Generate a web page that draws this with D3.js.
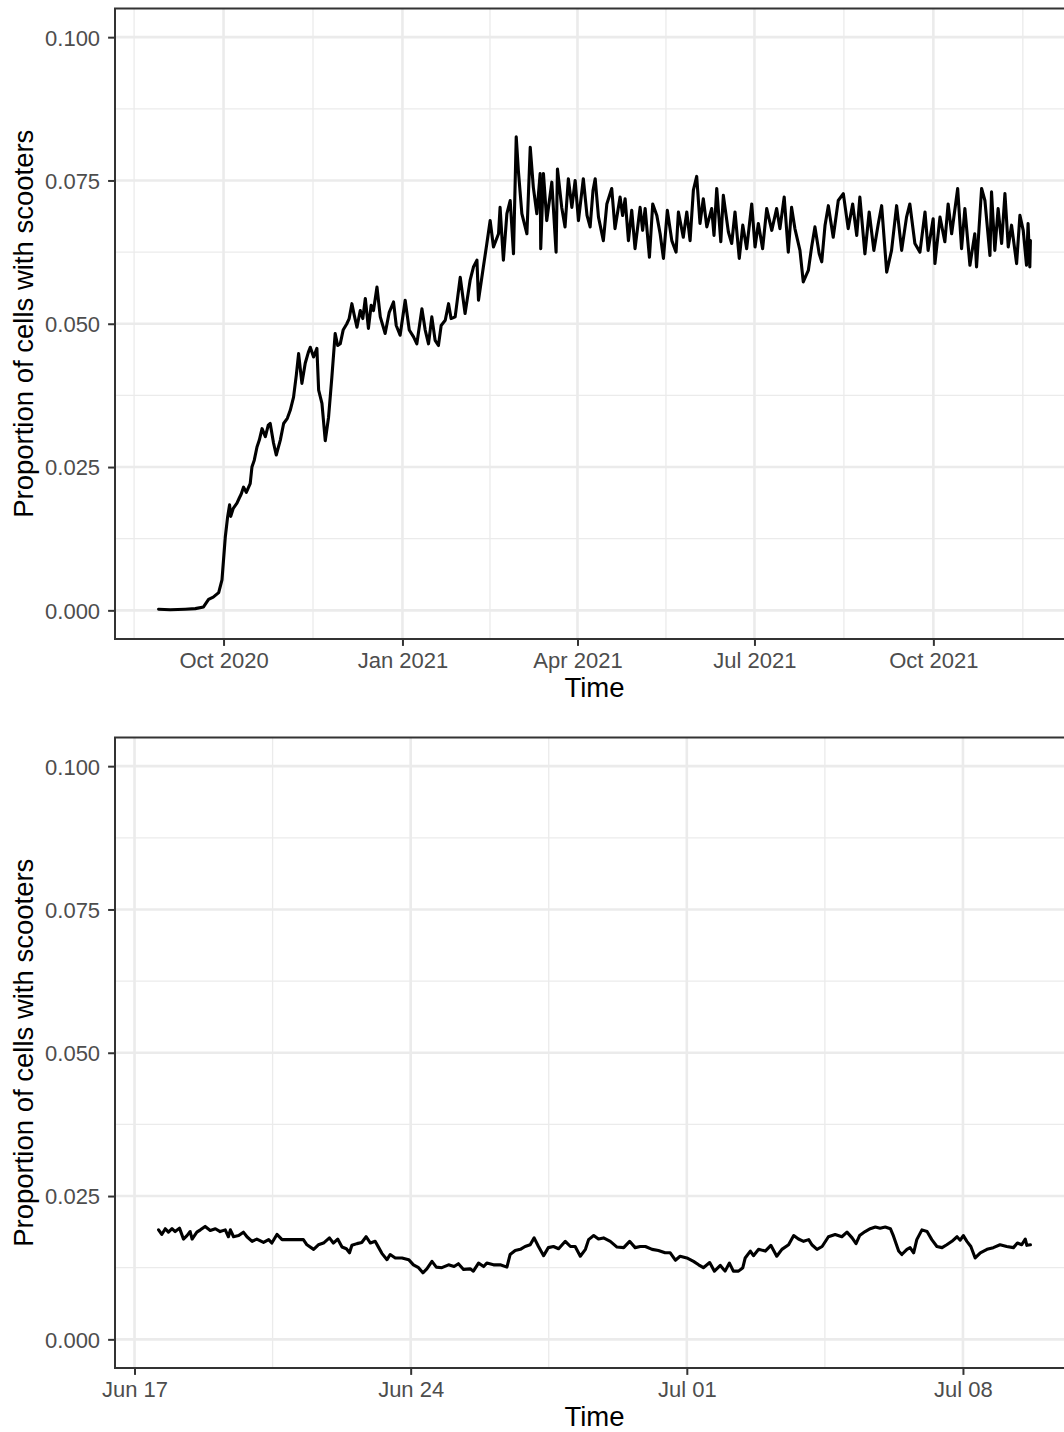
<!DOCTYPE html>
<html>
<head>
<meta charset="utf-8">
<script src="https://cdn.jsdelivr.net/npm/d3@7"></script>
<style>
body{margin:0;background:#fff}
text{font-family:"Liberation Sans",Arial,Helvetica,sans-serif}
</style>
</head>
<body>
<script>
// whole period: days after overviewStart, proportion of cells
var overviewStart="2020-08-28"
var overviewDays=[0.6,6.6,14.3,19.5,23.7,26.3,28.7,31.5,33.2,34.9,
  36.1,37.1,37.7,39.0,40.9,42.1,43.1,44.3,45.7,47.7,
  48.6,49.8,51.2,52.4,53.8,55.5,57.0,58.0,59.7,61.1,
  63.2,64.9,66.8,68.3,70.0,71.4,72.6,74.3,76.0,77.6,
  78.6,80.3,82.0,82.9,84.6,86.3,88.0,89.7,91.4,92.7,
  94.0,95.5,97.4,98.6,100.0,101.2,102.6,104.3,105.6,106.9,
  108.5,109.9,111.1,112.9,114.6,117.1,119.2,121.4,122.8,124.8,
  127.4,129.5,131.7,133.4,136.0,137.7,139.4,141.1,142.8,144.5,
  145.9,148.0,149.7,151.0,153.1,155.7,158.2,160.8,162.5,164.3,
  165.1,167.6,169.4,171.1,172.8,175.4,176.2,177.9,179.7,181.4,
  183.1,184.5,185.6,187.4,190.0,191.7,193.3,195.1,196.8,197.1,
  198.5,200.2,202.8,205.0,205.7,207.9,209.6,211.3,213.1,214.8,
  216.5,219.0,220.9,222.5,224.0,225.1,226.8,229.3,231.1,233.6,
  235.3,237.9,239.2,240.5,242.2,243.9,245.6,248.2,249.5,250.8,
  253.0,254.7,256.8,258.5,260.2,262.2,264.5,266.7,267.9,270.4,
  272.2,273.9,275.6,277.3,279.0,280.7,282.5,285.0,286.2,287.6,
  289.7,291.0,293.6,295.3,297.0,299.2,301.0,303.0,305.6,307.3,
  309.0,311.2,313.3,315.9,318.4,320.1,322.3,324.4,326.1,327.8,
  330.4,332.1,333.5,334.7,336.4,338.1,340.3,341.6,343.3,345.0,
  347.5,350.1,352.7,355.2,357.5,359.6,361.2,363.8,366.0,368.4,
  370.7,372.4,375.0,377.5,380.1,382.7,385.2,386.9,389.5,392.1,
  394.7,396.3,398.9,399.8,402.4,404.9,406.6,408.4,411.5,413.5,
  415.2,417.8,420.3,421.2,423.8,425.5,428.1,428.9,430.6,432.3,
  434.1,435.8,437.5,439.2,441.8,443.5,445.2,446.9,447.7,448.6,
  448.9]
var overviewValues=[0.0002,0.0001,0.0002,0.0003,0.0006,0.0019,0.0023,0.0031,0.0053,0.0128,
  0.0163,0.0184,0.0164,0.0178,0.0187,0.0196,0.0203,0.0215,0.0206,0.0221,
  0.0250,0.0262,0.0285,0.0297,0.0317,0.0303,0.0323,0.0326,0.0292,0.0271,
  0.0297,0.0326,0.0335,0.0349,0.0372,0.0410,0.0448,0.0396,0.0431,0.0450,
  0.0459,0.0442,0.0457,0.0384,0.0361,0.0296,0.0337,0.0407,0.0483,0.0462,
  0.0465,0.0489,0.0500,0.0509,0.0535,0.0515,0.0494,0.0523,0.0509,0.0544,
  0.0492,0.0532,0.0523,0.0564,0.0512,0.0483,0.0520,0.0538,0.0497,0.0480,
  0.0541,0.0489,0.0477,0.0465,0.0526,0.0489,0.0465,0.0512,0.0471,0.0462,
  0.0497,0.0506,0.0535,0.0509,0.0512,0.0581,0.0518,0.0576,0.0599,0.0611,
  0.0541,0.0599,0.0640,0.0680,0.0634,0.0657,0.0703,0.0611,0.0692,0.0715,
  0.0622,0.0826,0.0767,0.0692,0.0657,0.0808,0.0738,0.0692,0.0762,0.0631,
  0.0762,0.0680,0.0747,0.0625,0.0770,0.0703,0.0669,0.0753,0.0703,0.0750,
  0.0680,0.0753,0.0689,0.0669,0.0733,0.0753,0.0686,0.0645,0.0709,0.0736,
  0.0666,0.0721,0.0689,0.0718,0.0645,0.0698,0.0631,0.0703,0.0663,0.0701,
  0.0616,0.0709,0.0689,0.0657,0.0614,0.0698,0.0645,0.0625,0.0695,0.0651,
  0.0695,0.0645,0.0733,0.0757,0.0675,0.0718,0.0669,0.0701,0.0654,0.0736,
  0.0643,0.0724,0.0660,0.0640,0.0695,0.0614,0.0672,0.0631,0.0709,0.0634,
  0.0675,0.0631,0.0701,0.0663,0.0701,0.0666,0.0721,0.0625,0.0703,0.0666,
  0.0628,0.0573,0.0584,0.0593,0.0634,0.0669,0.0622,0.0608,0.0672,0.0706,
  0.0651,0.0715,0.0727,0.0666,0.0709,0.0654,0.0721,0.0622,0.0695,0.0628,
  0.0675,0.0706,0.0590,0.0628,0.0706,0.0628,0.0686,0.0709,0.0640,0.0625,
  0.0695,0.0628,0.0683,0.0605,0.0686,0.0643,0.0709,0.0657,0.0736,0.0631,
  0.0701,0.0602,0.0657,0.0599,0.0736,0.0715,0.0619,0.0730,0.0628,0.0701,
  0.0640,0.0727,0.0634,0.0672,0.0605,0.0689,0.0663,0.0602,0.0675,0.0599,
  0.0645]
var overviewBreaks=["2020-07-01","2020-10-01","2021-01-01","2021-04-01","2021-07-01","2021-10-01","2022-01-01"]

// three weeks close up: days after detailStart
var detailStart="2022-06-17"
var detailDays=[0.61,0.69,0.78,0.86,0.95,1.03,1.14,1.24,1.33,1.41,
  1.46,1.58,1.67,1.79,1.92,2.05,2.17,2.30,2.38,2.43,
  2.51,2.64,2.76,2.85,2.98,3.10,3.27,3.40,3.48,3.61,
  3.74,3.86,4.28,4.37,4.54,4.66,4.79,4.94,5.04,5.15,
  5.26,5.37,5.45,5.51,5.64,5.76,5.87,5.98,6.10,6.19,
  6.27,6.40,6.48,6.61,6.78,6.95,7.07,7.20,7.31,7.41,
  7.54,7.65,7.79,7.96,8.10,8.21,8.34,8.51,8.59,8.72,
  8.85,8.93,9.10,9.27,9.44,9.52,9.65,9.78,9.90,10.03,
  10.13,10.24,10.37,10.49,10.62,10.75,10.92,11.05,11.17,11.30,
  11.43,11.51,11.64,11.76,11.89,12.06,12.23,12.40,12.55,12.69,
  12.82,12.95,13.12,13.28,13.45,13.58,13.71,13.83,14.00,14.17,
  14.30,14.42,14.58,14.70,14.85,14.97,15.08,15.18,15.31,15.42,
  15.48,15.61,15.69,15.82,15.99,16.13,16.28,16.41,16.58,16.71,
  16.83,16.96,17.09,17.17,17.30,17.43,17.59,17.76,17.93,18.06,
  18.19,18.29,18.38,18.52,18.65,18.78,18.90,19.03,19.16,19.24,
  19.37,19.45,19.58,19.66,19.75,19.83,19.96,20.09,20.21,20.34,
  20.47,20.59,20.72,20.85,20.93,21.01,21.10,21.20,21.31,21.44,
  21.61,21.77,21.94,22.11,22.28,22.38,22.49,22.58,22.62,22.71]
var detailValues=[0.0191,0.0183,0.0193,0.0187,0.0193,0.0188,0.0194,0.0175,0.0181,0.0188,
  0.0175,0.0187,0.0191,0.0197,0.0190,0.0193,0.0188,0.0191,0.0179,0.0191,
  0.0179,0.0181,0.0187,0.0179,0.0171,0.0175,0.0169,0.0174,0.0168,0.0183,
  0.0174,0.0174,0.0174,0.0165,0.0157,0.0165,0.0168,0.0177,0.0168,0.0175,
  0.0161,0.0158,0.0151,0.0164,0.0167,0.0169,0.0179,0.0168,0.0171,0.0160,
  0.0150,0.0139,0.0148,0.0142,0.0142,0.0139,0.0130,0.0125,0.0116,0.0123,
  0.0136,0.0126,0.0125,0.0130,0.0127,0.0132,0.0122,0.0123,0.0119,0.0133,
  0.0127,0.0133,0.0130,0.0130,0.0126,0.0148,0.0155,0.0157,0.0162,0.0165,
  0.0177,0.0162,0.0146,0.0160,0.0162,0.0158,0.0171,0.0162,0.0162,0.0145,
  0.0157,0.0174,0.0181,0.0175,0.0177,0.0171,0.0161,0.0160,0.0171,0.0160,
  0.0162,0.0162,0.0157,0.0155,0.0151,0.0151,0.0138,0.0145,0.0142,0.0136,
  0.0130,0.0125,0.0134,0.0119,0.0129,0.0119,0.0133,0.0119,0.0119,0.0125,
  0.0142,0.0154,0.0146,0.0157,0.0154,0.0164,0.0145,0.0157,0.0165,0.0181,
  0.0175,0.0171,0.0174,0.0165,0.0157,0.0162,0.0179,0.0183,0.0179,0.0187,
  0.0177,0.0167,0.0181,0.0188,0.0193,0.0196,0.0194,0.0196,0.0193,0.0180,
  0.0154,0.0148,0.0157,0.0160,0.0151,0.0174,0.0191,0.0188,0.0174,0.0162,
  0.0160,0.0165,0.0171,0.0179,0.0173,0.0181,0.0171,0.0162,0.0142,0.0151,
  0.0157,0.0160,0.0165,0.0162,0.0160,0.0168,0.0165,0.0175,0.0164,0.0165]
var detailBreaks=["2022-06-10","2022-06-17","2022-06-24","2022-07-01","2022-07-08","2022-07-15"]

var yBreaks=[0,0.025,0.05,0.075,0.1]
var yLimits=[0,0.1]
var yTitle="Proportion of cells with scooters"
var xTitle="Time"

var parseDate=d3.timeParse("%Y-%m-%d")
var screen={width:1064,height:1432}
var left=115, right=1074

var svg=d3.select("body").append("svg").attr("width",screen.width).attr("height",screen.height)

var drawPanel=function(start,days,values,breaks,fmt,top,bottom){
  var t0=parseDate(start)
  var data=days.map(function(d,i){return {t:new Date(+t0+d*864e5),v:values[i]}})
  var ext=d3.extent(data,function(d){return +d.t})
  var pad=(ext[1]-ext[0])*0.05
  var xScale=d3.scaleTime().domain([new Date(ext[0]-pad),new Date(ext[1]+pad)]).range([left,right])
  var ypad=(yLimits[1]-yLimits[0])*0.05
  var yScale=d3.scaleLinear().domain([yLimits[0]-ypad,yLimits[1]+ypad]).range([bottom,top])
  var dom=xScale.domain()
  var majors=breaks.map(parseDate)
  var minors=d3.pairs(majors).map(function(p){return new Date((+p[0]+ +p[1])/2)})
  var inX=function(d){return d>=dom[0]&&d<=dom[1]}
  majors=majors.filter(inX)
  minors=minors.filter(inX)
  var yMinors=d3.pairs(yBreaks).map(function(p){return (p[0]+p[1])/2})
  var g=svg.append("g")
  // minor grid
  g.append("g").selectAll("line").data(minors).enter().append("line")
   .attr("x1",function(d){return xScale(d)}).attr("x2",function(d){return xScale(d)})
   .attr("y1",top).attr("y2",bottom)
   .style("stroke","#EBEBEB").style("stroke-width",1.3)
  g.append("g").selectAll("line").data(yMinors).enter().append("line")
   .attr("x1",left).attr("x2",right)
   .attr("y1",function(d){return yScale(d)}).attr("y2",function(d){return yScale(d)})
   .style("stroke","#EBEBEB").style("stroke-width",1.3)
  // major grid
  g.append("g").selectAll("line").data(majors).enter().append("line")
   .attr("x1",function(d){return xScale(d)}).attr("x2",function(d){return xScale(d)})
   .attr("y1",top).attr("y2",bottom)
   .style("stroke","#EBEBEB").style("stroke-width",2.6)
  g.append("g").selectAll("line").data(yBreaks).enter().append("line")
   .attr("x1",left).attr("x2",right)
   .attr("y1",function(d){return yScale(d)}).attr("y2",function(d){return yScale(d)})
   .style("stroke","#EBEBEB").style("stroke-width",2.6)
  // data
  var line=d3.line().x(function(d){return xScale(d.t)}).y(function(d){return yScale(d.v)})
  g.append("path").datum(data).attr("d",line)
   .style("fill","none").style("stroke","#000").style("stroke-width",3.1)
   .style("stroke-linejoin","round").style("stroke-linecap","round")
  // border
  g.append("rect").attr("x",left).attr("y",top).attr("width",right-left).attr("height",bottom-top)
   .style("fill","none").style("stroke","#333333").style("stroke-width",2)
  // axes
  var xAxis=d3.axisBottom(xScale).tickValues(majors).tickFormat(d3.timeFormat(fmt))
    .tickSizeInner(6.9).tickSizeOuter(0).tickPadding(6.5)
  var gx=g.append("g").attr("transform","translate(0,"+bottom+")").call(xAxis)
  var yAxis=d3.axisLeft(yScale).tickValues(yBreaks).tickFormat(d3.format(".3f"))
    .tickSizeInner(6.9).tickSizeOuter(0).tickPadding(8)
  var gy=g.append("g").attr("transform","translate("+left+",0)").call(yAxis)
  ;[gx,gy].forEach(function(a){
    a.select(".domain").remove()
    a.selectAll(".tick line").style("stroke","#333333").style("stroke-width",2)
    a.selectAll(".tick text").style("fill","#4D4D4D").style("font-size","22px")
     .style("font-family","'Liberation Sans',Arial,sans-serif")
  })
  gy.selectAll(".tick text").attr("dy","0.36em")
  // titles
  g.append("text").text(xTitle)
   .attr("x",(left+right)/2).attr("y",bottom+58)
   .attr("text-anchor","middle").style("font-size","27.5px").style("fill","#000")
  g.append("text").text(yTitle)
   .attr("transform","translate(33,"+((top+bottom)/2)+") rotate(-90)")
   .attr("text-anchor","middle").style("font-size","27.5px").style("fill","#000")
}

drawPanel(overviewStart,overviewDays,overviewValues,overviewBreaks,"%b %Y",8.5,639)
drawPanel(detailStart,detailDays,detailValues,detailBreaks,"%b %d",737.5,1368)
</script>
</body>
</html>
